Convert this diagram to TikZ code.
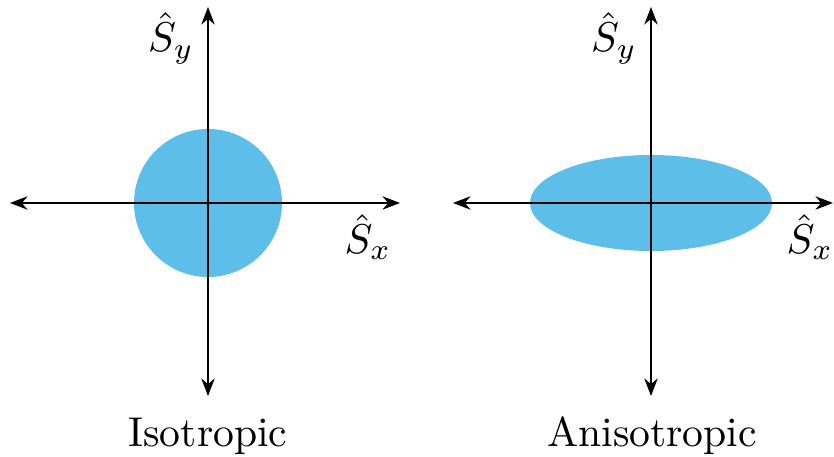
\documentclass[tikz,border=0pt]{standalone}
\usetikzlibrary{arrows.meta}
\definecolor{blob}{RGB}{92,190,233}
\begin{document}
\begin{tikzpicture}[x=0.24pt,y=-0.24pt,
  axis/.style={line width=0.55pt,{Stealth[length=4.2pt,width=3.2pt]}-{Stealth[length=4.2pt,width=3.2pt]}},
  region/.style={fill=blob,draw=none},
  lbl/.style={inner sep=0pt,font=\normalsize}]
\useasboundingbox (0,0) rectangle (834,457);
% left: isotropic
\fill[region] (208,203) circle [radius=74];
\coordinate (lL) at (10,203); \coordinate (lR) at (400,203);
\coordinate (lT) at (208,7);  \coordinate (lB) at (208,396);
\draw[axis] (lL) -- (lR);
\draw[axis] (lB) -- (lT);
\node[lbl] (lsy) at (171,38) {$\hat{S}_y$};
\node[lbl] (lsx) at (368,237) {$\hat{S}_x$};
\node[lbl,anchor=base] (iso) at (208,447) {Isotropic};
% right: anisotropic
\fill[region] (651,203) ellipse [x radius=121, y radius=48];
\coordinate (rL) at (453,203); \coordinate (rR) at (833,203);
\coordinate (rT) at (651,7);  \coordinate (rB) at (651,396);
\draw[axis] (rL) -- (rR);
\draw[axis] (rB) -- (rT);
\node[lbl] (rsy) at (614,38) {$\hat{S}_y$};
\node[lbl] (rsx) at (810,237) {$\hat{S}_x$};
\node[lbl,anchor=base] (aniso) at (652,447) {Anisotropic};
\end{tikzpicture}
\end{document}
